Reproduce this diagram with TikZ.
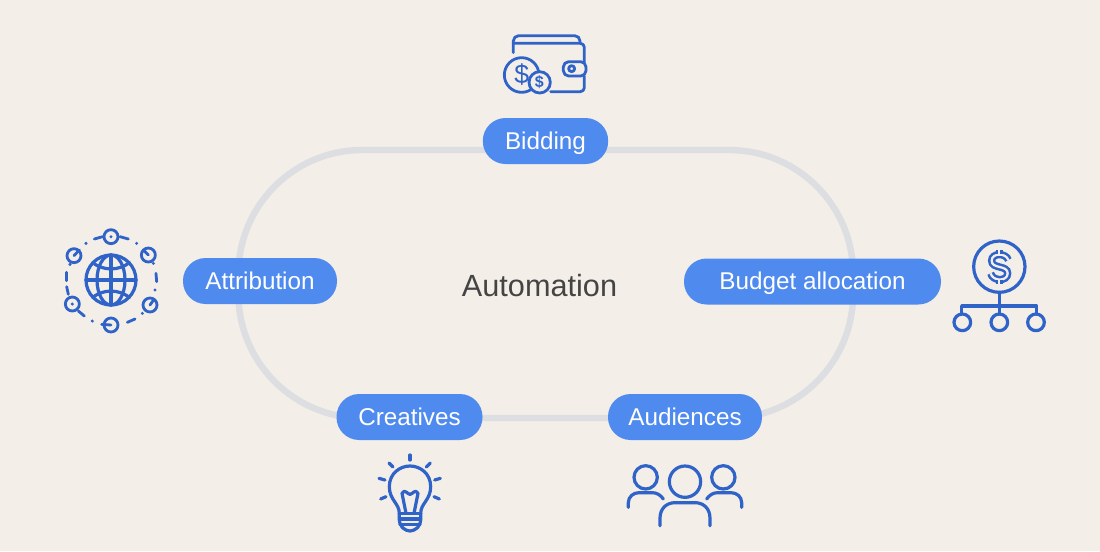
\documentclass[tikz,border=0pt]{standalone}
\usepackage{fontspec}
\setmainfont{Liberation Sans}
\usepackage{xcolor}
\definecolor{paper}{HTML}{F3EEE8}
\definecolor{track}{HTML}{DCDEE2}
\definecolor{pillblue}{HTML}{4F8AEF}
\definecolor{iconblue}{HTML}{2F63C8}
\definecolor{bk70}{HTML}{444444}
\tikzset{
  looptrack/.style={
    rectangle, draw=track, line width=4.8pt, rounded corners=93pt,
    minimum width=461pt, minimum height=201pt,
    inner sep=0pt
  },
  pill/.style={
    rectangle, fill=pillblue, text=white, rounded corners=17pt,
    minimum height=34.5pt, inner sep=0pt,
    text height=12.5pt, text depth=0pt,
    font=\fontsize{18.2pt}{20pt}\selectfont
  },
  iconline/.style={
    draw=iconblue, line width=2.4pt, line cap=round, line join=round
  },
  iconthin/.style={
    draw=iconblue, line width=2.1pt, line cap=round, line join=round
  },
  icondot/.style={fill=iconblue, draw=none},
  iconat/.style 2 args={shift={(#1,#2)}, x=0.25pt, y=-0.25pt},
  coinmark/.style={text=iconblue, inner sep=0pt, font=\fontsize{#1}{#1}\selectfont},
  outlined/.style={
    draw=iconblue, line width=1.9pt, double=paper, double distance=1.7pt
  },
}
\begin{document}
\begin{tikzpicture}[x=0.75pt, y=-0.75pt]
  \useasboundingbox (0,0) rectangle (1100,551);
  \fill[paper] (0,0) rectangle (1100,551);
  \node[looptrack] at (545.75,284) (loop) {};
  \node[pill, minimum width=94pt] at (545.5,141) (bidding) {Bidding};
  \node[pill, minimum width=115.5pt] at (260,281) (attribution) {Attribution};
  \node[pill, minimum width=192.75pt] at (812.5,281.5) (budget) {Budget allocation};
  \node[pill, minimum width=109.5pt] at (409.5,417) (creatives) {Creatives};
  \node[pill, minimum width=115.5pt] at (685,417) (audiences) {Audiences};
  \node[text=bk70, inner sep=0pt, font=\fontsize{23pt}{25pt}\selectfont] at (539.5,286) (automation) {Automation};
  % wallet
  \begin{scope}[iconat={480}{20}]
    \draw[iconthin, rounded corners=4pt] (100,98) -- (100,47) -- (300,47) -- (300,70);
    \draw[iconthin, rounded corners=3pt] (100,70) -- (313,70) -- (313,125);
    \draw[iconthin, rounded corners=3pt] (313,168) -- (313,215) -- (212,215);
    \draw[iconthin, rounded corners=4pt] (318,125) -- (250,125) -- (250,168) -- (318,168) -- cycle;
    \draw[iconthin] (275,146) circle (9);
    \draw[iconthin] (125,165) circle (52);
    \draw[iconthin, fill=paper] (179,187) circle (32);
    \node[coinmark=20pt] at (125,165) (coinbig) {\$};
    \node[coinmark=12pt] at (178,187) (coinsmall) {\textbf{\$}};
  \end{scope}
  % globe
  \begin{scope}[iconat={50}{215}]
    \draw[iconline] (183,195) circle (75);
    \draw[iconline] (183,195) ellipse (42 and 75);
    \draw[iconline] (183,120) -- (183,270);
    \draw[iconline] (108,195) -- (258,195);
    \draw[iconline] (128,143) .. controls (160,168) and (206,168) .. (238,143);
    \draw[iconline] (128,247) .. controls (160,222) and (206,222) .. (238,247);
    \foreach \cx/\cy in {183/65, 72/122, 295/120, 300/270, 67/267, 183/330}
      \draw[iconthin] (\cx,\cy) circle (21);
    \foreach \cx/\cy in {183/65, 67/267, 108/85, 260/85, 310/145, 315/225, 277/295, 127/318, 60/148}
      \fill[icondot] (\cx,\cy) circle (5);
    \draw[iconthin] (133,72) -- (158,65);
    \draw[iconthin] (210,65) -- (235,72);
    \draw[iconthin] (72,122) -- (88,105);
    \draw[iconthin] (295,120) -- (280,105);
    \draw[iconthin] (300,270) -- (312,253);
    \draw[iconthin] (318,175) -- (320,200);
    \draw[iconthin] (255,312) -- (232,322);
    \draw[iconthin] (183,330) -- (155,328);
    \draw[iconthin] (103,303) -- (85,288);
    \draw[iconthin] (55,238) -- (50,215);
    \draw[iconthin] (50,197) -- (50,172);
  \end{scope}
  % coin tree
  \begin{scope}[iconat={940}{230}]
    \draw[iconline] (178,110) circle (77);
    \draw[iconline] (178,187) -- (178,252);
    \draw[iconline] (65,252) -- (65,228) -- (290,228) -- (290,252);
    \foreach \cx in {67,178,288}
      \draw[iconline] (\cx,277) circle (25);
    \draw[outlined]
      (205,90) .. controls (198,68) and (155,68) .. (155,92)
      .. controls (155,118) and (203,104) .. (203,130)
      .. controls (203,155) and (158,155) .. (152,130);
    \draw[outlined] (178,60) -- (178,73);
    \draw[outlined] (178,149) -- (178,163);
  \end{scope}
  % bulb
  \begin{scope}[iconat={360}{445}]
    \draw[iconline] (118,205) .. controls (118,175) and (88,165) .. (88,125)
      .. controls (88,85) and (120,63) .. (150,63)
      .. controls (180,63) and (212,85) .. (212,125)
      .. controls (212,165) and (182,175) .. (182,205);
    \draw[iconline] (118,205) -- (182,205);
    \draw[iconline, rounded corners=3pt] (118,205) -- (118,238) -- (138,258) -- (162,258) -- (182,238) -- (182,205);
    \draw[iconline] (120,222) -- (180,222);
    \draw[iconline] (120,238) -- (180,238);
    \draw[iconline] (138,205) -- (126,145) .. controls (135,130) and (142,148) .. (150,148)
      .. controls (158,148) and (165,130) .. (174,145) -- (162,205);
    \draw[iconline] (150,30) -- (150,45);
    \draw[iconline] (87,54) -- (99,66);
    \draw[iconline] (211,54) -- (199,66);
    \draw[iconline] (57,100) -- (75,105);
    \draw[iconline] (241,100) -- (224,105);
    \draw[iconline] (62,162) -- (78,155);
    \draw[iconline] (238,162) -- (222,155);
  \end{scope}
  % people
  \begin{scope}[iconat={615}{455}]
    \draw[iconline] (210,80) circle (47);
    \draw[iconline] (92,67) circle (35);
    \draw[iconline] (325,67) circle (35);
    \draw[iconline] (135,212) -- (135,190) .. controls (135,160) and (155,143) .. (180,143)
      -- (240,143) .. controls (265,143) and (285,160) .. (285,190) -- (285,212);
    \draw[iconline] (40,157) -- (40,143) .. controls (40,125) and (55,113) .. (72,113)
      -- (112,113) .. controls (125,113) and (137,120) .. (145,132);
    \draw[iconline] (380,157) -- (380,143) .. controls (380,125) and (365,113) .. (348,113)
      -- (308,113) .. controls (295,113) and (283,120) .. (275,132);
  \end{scope}
\end{tikzpicture}
\end{document}
